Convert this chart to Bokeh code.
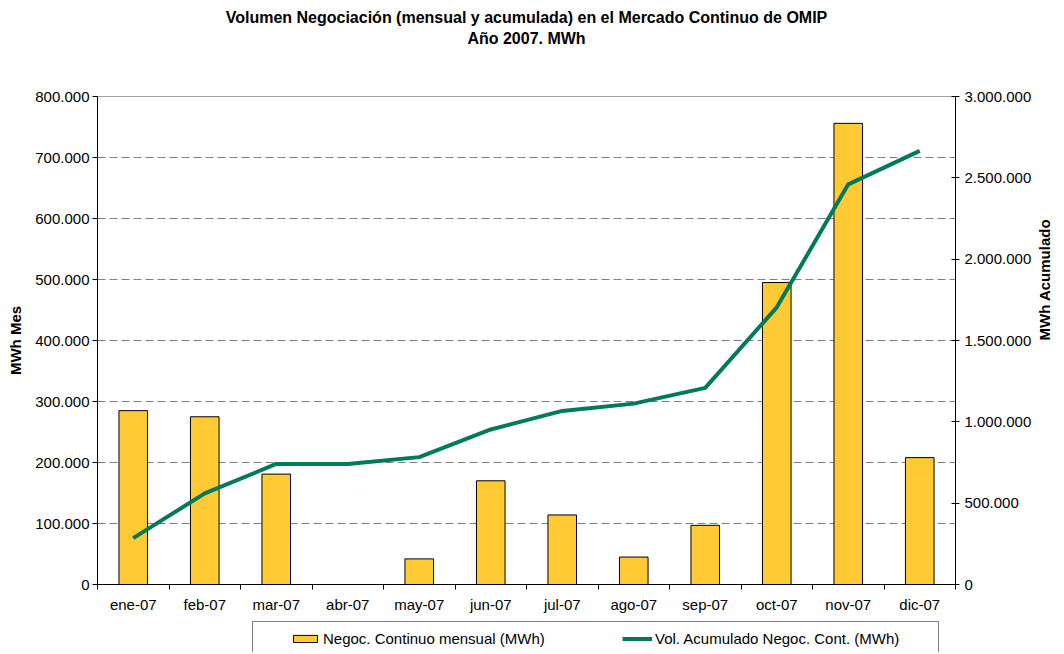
import math
from bokeh.plotting import figure
from bokeh.layouts import column
from bokeh.models import (Range1d, LinearAxis, FixedTicker, SingleIntervalTicker,
                          CustomJSTickFormatter, Legend, LegendItem, ColumnDataSource,
                          Grid, Title)
from bokeh.embed import file_html
from bokeh.resources import INLINE

# ---- data ----
months = ["ene-07", "feb-07", "mar-07", "abr-07", "may-07", "jun-07",
          "jul-07", "ago-07", "sep-07", "oct-07", "nov-07", "dic-07"]
mensual = [285000, 275000, 181000, 0, 42000, 170000,
           114000, 45000, 97000, 495000, 756000, 208000]
acumulado = [285000, 560000, 741000, 741000, 783000, 953000,
             1067000, 1112000, 1209000, 1704000, 2460000, 2666000]
title_line1 = "Volumen Negociación (mensual y acumulada) en el Mercado Continuo de OMIP"
title_line2 = "Año 2007. MWh"
left_label = "MWh Mes"
right_label = "MWh Acumulado"
bar_label = "Negoc. Continuo mensual (MWh)"
line_label = "Vol. Acumulado Negoc. Cont. (MWh)"

FONT = "Liberation Sans"
BAR_COLOR = "#FFCA33"
LINE_COLOR = "#007A5A"
W, H_MAIN, H_LEG = 1064, 618, 34
idx = list(range(len(months)))
src = ColumnDataSource(dict(x=idx, m=mensual, a=acumulado))

p = figure(width=W, height=H_MAIN, output_backend="svg", toolbar_location=None,
           x_range=Range1d(-0.5, len(months) - 0.5), y_range=Range1d(0, 800000),
           min_border_left=97, min_border_right=W - 962, min_border_top=96,
           min_border_bottom=H_MAIN - 584,
           x_axis_type=None, y_axis_type=None)
p.extra_y_ranges = {"acum": Range1d(0, 3000000)}
p.background_fill_color = "white"
p.border_fill_color = "white"
p.outline_line_color = "#a0a0a0"

fmt = CustomJSTickFormatter(code="""
return Math.round(tick).toString().replace(/\\B(?=(\\d{3})+(?!\\d))/g, '.');
""")

yl = LinearAxis(ticker=SingleIntervalTicker(interval=100000), formatter=fmt,
                axis_label=left_label)
yr = LinearAxis(y_range_name="acum", ticker=SingleIntervalTicker(interval=500000),
                formatter=fmt, axis_label=right_label)
xb = LinearAxis(ticker=FixedTicker(ticks=idx, minor_ticks=[i - 0.5 for i in range(len(months) + 1)]),
                major_label_overrides={i: m for i, m in enumerate(months)})

for ax in (yl, yr, xb):
    ax.axis_line_color = "black"
    ax.major_tick_line_color = "black"
    ax.minor_tick_line_color = "black"
    ax.major_label_text_font = FONT
    ax.major_label_text_font_size = "15px"
    ax.major_label_text_color = "black"
    ax.axis_label_text_font = FONT
    ax.axis_label_text_font_size = "15px"
    ax.axis_label_text_font_style = "bold"
    ax.axis_label_text_color = "black"

yl.major_tick_out = 5
yl.major_tick_in = 0
yl.minor_tick_out = 0
yl.minor_tick_in = 0
yl.major_label_standoff = 3
yl.axis_label_standoff = 8

yr.major_tick_out = 4
yr.major_tick_in = 4
yr.minor_tick_out = 0
yr.minor_tick_in = 0
yr.major_label_standoff = 5
yr.axis_label_standoff = 10
yr.axis_label_orientation = math.pi / 2

xb.major_tick_out = 0
xb.major_tick_in = 0
xb.minor_tick_out = 5
xb.minor_tick_in = 0
xb.major_label_standoff = 6

p.add_layout(yl, "left")
p.add_layout(yr, "right")
p.add_layout(xb, "below")

g = Grid(dimension=1, ticker=yl.ticker, grid_line_color="#7f7f7f",
         grid_line_dash="8 4", grid_line_width=1)
p.add_layout(g)

p.vbar(x="x", top="m", width=0.4, source=src, fill_color=BAR_COLOR,
       line_color="black", line_width=1)
p.line(x="x", y="a", source=src, y_range_name="acum", line_color=LINE_COLOR,
       line_width=4)

# titles: p.title is line 1; spacer then line 2 stacked next to the frame
p.title.text = title_line1
p.title.align = "center"
p.title.text_font = FONT
p.title.text_font_size = "16px"
p.title.text_font_style = "bold"
p.title.text_color = "black"
p.title.standoff = 2

spacer = Title(text=" ", text_font_size="1px", standoff=46)
t2 = Title(text=title_line2, align="center", text_font=FONT, text_font_size="16px",
           text_font_style="bold", text_color="black", standoff=2)
p.add_layout(spacer, "above")
p.add_layout(t2, "above")

# ---- legend strip below the chart (its frame is aligned with the chart's) ----
pl = figure(width=W, height=H_LEG, output_backend="svg", toolbar_location=None,
            x_range=Range1d(-0.5, len(months) - 0.5), y_range=Range1d(-6000000, -5000000),
            x_axis_type=None, y_axis_type=None,
            min_border_left=0, min_border_right=0, min_border_top=0, min_border_bottom=0)
pl.outline_line_color = None
pl.background_fill_color = "white"
pl.border_fill_color = "white"
pl.title.visible = False

# same series, lying above this strip's visible range: only their legend swatches show
sw_bar = pl.rect(x="x", y="m", width=0.4, height=1, source=src, fill_color=BAR_COLOR,
                 line_color="black", line_width=1)
sw_line = pl.line(x="x", y="a", source=src, line_color=LINE_COLOR, line_width=4)

legend = Legend(items=[LegendItem(label=bar_label, renderers=[sw_bar]),
                       LegendItem(label=line_label, renderers=[sw_line])],
                orientation="horizontal", location=(155, -4))
legend.title = " "
legend.title_location = "left"
legend.title_standoff = 12
legend.title_text_font_size = "15px"
legend.label_text_font = FONT
legend.label_text_font_size = "15px"
legend.label_text_color = "black"
legend.glyph_width = 30
legend.glyph_height = 9
legend.label_standoff = 3
legend.label_width = 275
legend.spacing = 24
legend.padding = 8
legend.margin = 0
legend.border_line_color = "black"
legend.border_line_width = 1
legend.background_fill_color = "white"
legend.background_fill_alpha = 1
pl.add_layout(legend, "center")

layout = column(p, pl, spacing=0)
open("out.html", "w").write(file_html(layout, INLINE))
